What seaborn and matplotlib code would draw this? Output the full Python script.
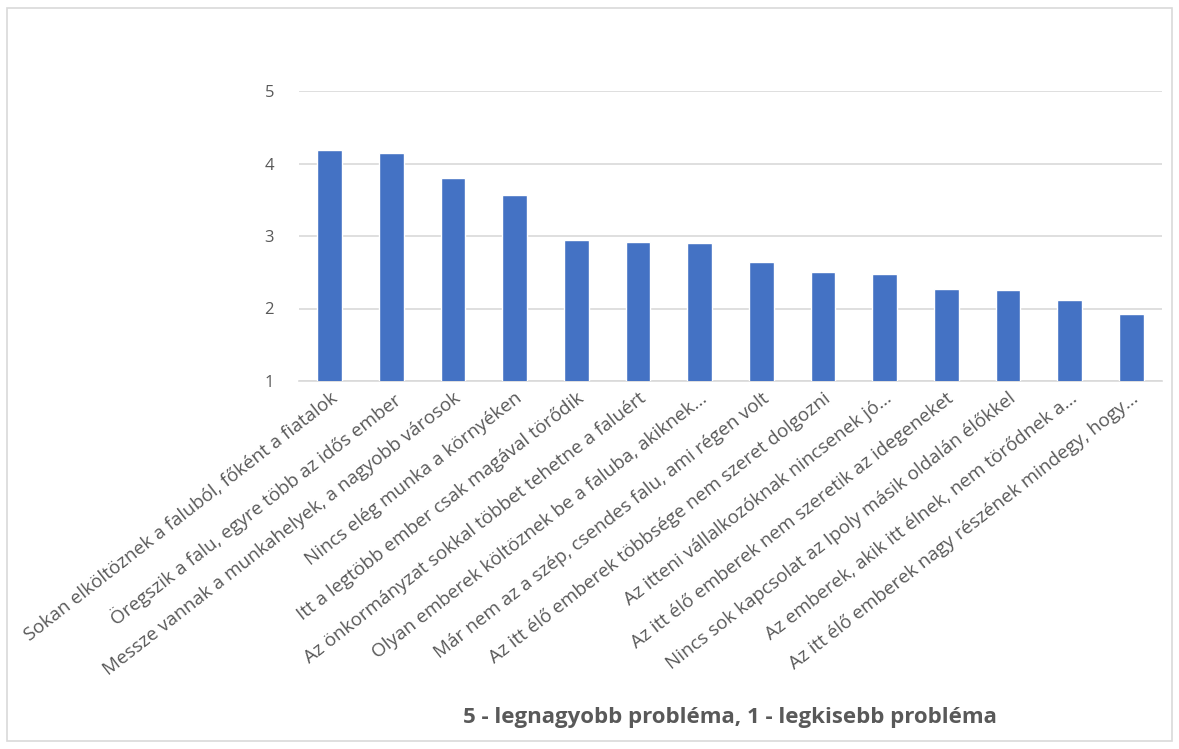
import matplotlib
matplotlib.use("Agg")
import matplotlib.pyplot as plt
import seaborn as sns
import pandas as pd
from matplotlib.patches import Rectangle

categories = [
    "Sokan elköltöznek a faluból, főként a fiatalok",
    "Öregszik a falu, egyre több az idős ember",
    "Messze vannak a munkahelyek, a nagyobb városok",
    "Nincs elég munka a környéken",
    "Itt a legtöbb ember csak magával törődik",
    "Az önkormányzat sokkal többet tehetne a faluért",
    "Olyan emberek költöznek be a faluba, akiknek…",
    "Már nem az a szép, csendes falu, ami régen volt",
    "Az itt élő emberek többsége nem szeret dolgozni",
    "Az itteni vállalkozóknak nincsenek jó…",
    "Az itt élő emberek nem szeretik az idegeneket",
    "Nincs sok kapcsolat az Ipoly másik oldalán élőkkel",
    "Az emberek, akik itt élnek, nem törődnek a…",
    "Az itt élő emberek nagy részének mindegy, hogy…",
]
values = [4.19, 4.14, 3.80, 3.56, 2.95, 2.92, 2.91, 2.64, 2.50, 2.48, 2.27, 2.25, 2.12, 1.93]
yticks = [1, 2, 3, 4, 5]
xlabel = "5 - legnagyobb probléma, 1 - legkisebb probléma"

sns.set_theme(style="white")
plt.rcParams['font.family'] = ['Open Sans', 'DejaVu Sans']

fig = plt.figure(figsize=(11.79, 7.49), dpi=100)
fig.patches.append(Rectangle((7/1179, 1 - 741/749), 1165/1179, 733/749,
                             transform=fig.transFigure, fill=False,
                             edgecolor="#d9d9d9", linewidth=1.2))
ax = fig.add_axes([299/1179, 1 - 381/749, 863/1179, 290/749])

df = pd.DataFrame({"cat": categories, "val": values})
sns.barplot(data=df, x="cat", y="val", color="#4472C4", width=0.4,
            saturation=1, ax=ax, zorder=3)

ax.set_ylim(1, 5)
ax.set_yticks(yticks)
ax.set_yticklabels([str(t) for t in yticks], fontsize=12, color="#595959")
ax.tick_params(axis="y", length=0, pad=18)
ax.tick_params(axis="x", length=0, pad=6)
ax.set_xticks(range(len(categories)))
ax.set_xticklabels(categories, rotation=38, ha="right", va="top",
                   rotation_mode="anchor", fontsize=13.6, color="#595959")
ax.yaxis.grid(True, color="#d9d9d9", linewidth=1.2, zorder=0)
ax.set_axisbelow(True)
for s in ["top", "right", "left"]:
    ax.spines[s].set_visible(False)
ax.spines["bottom"].set_color("#d9d9d9")
ax.spines["bottom"].set_linewidth(1.2)
ax.set_ylabel("")
ax.set_xlabel("")
ax.set_xlim(-0.5, len(categories) - 0.5)

fig.text(730/1179, 1 - 717/749, xlabel, ha="center", va="center",
         fontsize=16, fontweight="bold", color="#595959")

fig.savefig("out.png", dpi=100)
